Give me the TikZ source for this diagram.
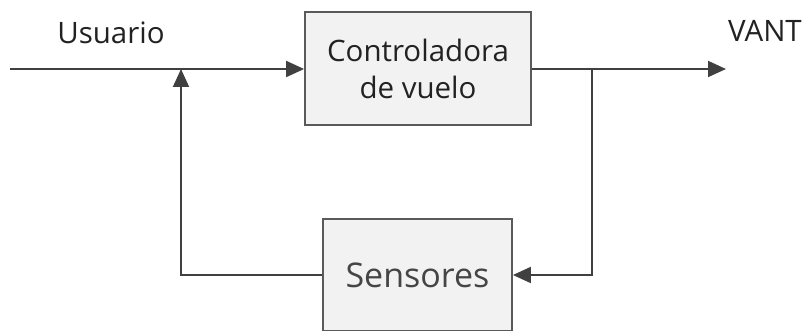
\documentclass[tikz,border=0pt]{standalone}
\usepackage{xcolor}
\usepackage{fontspec}
\setmainfont{Open Sans}
\usepackage{tikz}
\usetikzlibrary{arrows.meta, positioning, calc}

\definecolor{boxfill}{HTML}{F2F2F2}
\definecolor{boxedge}{HTML}{5A5A5A}
\definecolor{txtdark}{HTML}{222222}
\definecolor{txtgray}{HTML}{454545}

\begin{document}
\begin{tikzpicture}[
    x=1pt, y=-1pt,
    block/.style={
        rectangle,
        draw=boxedge,
        line width=1.8pt,
        fill=boxfill,
        align=center,
        inner sep=0pt,
        font=\fontsize{29.5}{37}\selectfont,
        text=txtdark
    },
    label/.style={
        font=\fontsize{29.5}{34}\selectfont,
        text=txtdark,
        inner sep=0pt
    },
    line/.style={
        draw=black!75,
        line width=1.9pt,
        -{Triangle[length=18pt, width=16pt]}
    },
    wire/.style={
        draw=black!75,
        line width=1.9pt
    }
]
\useasboundingbox (0,0) rectangle (808,331);

% Nodes
\node [block, minimum width=226pt, minimum height=113pt] (ctrl) at (418,68.5) {Controladora\\de vuelo};
\node [block, minimum width=189pt, minimum height=112pt, font=\fontsize{34}{40}\selectfont, text=txtgray] (sens) at (417.5,275) {Sensores};
\node [label] (user) at (111,33) {Usuario};
\node [label] (vant) at (765,31) {VANT};

\coordinate (in) at (10,69);
\coordinate (junc) at (181,69);
\coordinate (branch) at (592,69);
\coordinate (out) at (726,69);

% Edges
\path [line] (in) -- (ctrl.west |- in);
\path [wire] (ctrl.east |- out) -- (branch);
\path [line] (branch) -- (out);
\path [line] (branch) |- (sens.east);
\path [line] (sens.west) -| (junc);

\end{tikzpicture}
\end{document}
